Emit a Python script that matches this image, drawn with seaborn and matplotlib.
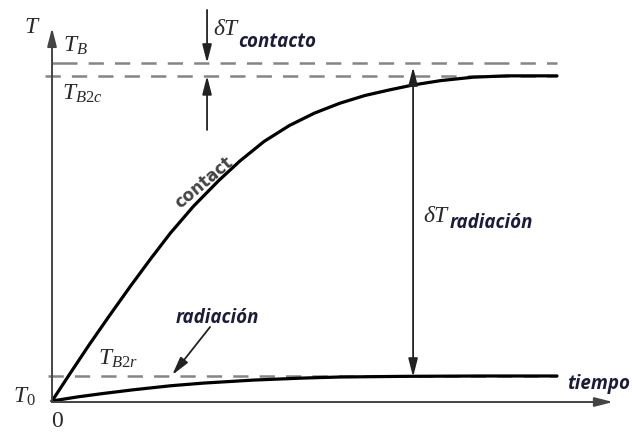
import matplotlib
matplotlib.use("Agg")
import matplotlib.pyplot as plt
import numpy as np
import pandas as pd
import seaborn as sns

# Heating curves: temperature vs time for contact and radiation heating
tiempo_contacto = [0, 0.36, 0.73, 1.13, 1.55, 1.94, 2.34, 2.8, 3.3, 3.72, 4.2, 4.7, 5.2,
                   5.7, 6.2, 6.7, 7.15, 7.7, 8.34, 9.0, 10.0]
T_contacto = [0, 0.082, 0.165, 0.251, 0.339, 0.418, 0.496, 0.576, 0.652, 0.71, 0.768, 0.815,
              0.852, 0.881, 0.904, 0.921, 0.935, 0.948, 0.958, 0.962, 0.962]

tiempo_radiacion = [0, 0.5, 1.0, 1.6, 2.34, 3.0, 4.0, 5.0, 5.7, 7.0, 8.5, 10.0]
T_radiacion = [0, 0.012, 0.022, 0.033, 0.045, 0.053, 0.062, 0.068, 0.071, 0.073, 0.074, 0.074]

# Reference levels
T_B = 1.0
T_B2c = 0.962
T_B2r = 0.074
t_fin = 10.0

sns.set_style("white")
plt.rcParams["mathtext.fontset"] = "custom"
plt.rcParams["mathtext.rm"] = "Liberation Serif"
plt.rcParams["mathtext.it"] = "Liberation Serif:italic"
plt.rcParams["lines.scale_dashes"] = False

df = pd.concat([
    pd.DataFrame({"tiempo": tiempo_contacto, "T": T_contacto, "curva": "contacto"}),
    pd.DataFrame({"tiempo": tiempo_radiacion, "T": T_radiacion, "curva": "radiación"}),
])

fig = plt.figure(figsize=(6.32, 4.32), dpi=100)
ax = fig.add_axes([0, 0, 1, 1])
ax.set_xlim(-1.03, 11.485)
ax.set_ylim(-0.0917, 1.1864)
ax.axis("off")

# dashed reference levels
dash = (11, 8)
ax.hlines(T_B, 0, t_fin, colors="#858585", lw=1.8, linestyles=(0, (18, 8) + dash * 30))
ax.hlines(T_B2c, -0.14, t_fin, colors="#858585", lw=1.8, linestyles=(0, dash))
ax.hlines(T_B2r, -0.08, t_fin, colors="#858585", lw=1.8, linestyles=(0, dash))

sns.lineplot(data=df, x="tiempo", y="T", hue="curva",
             palette={"contacto": "black", "radiación": "black"},
             linewidth=2.3, legend=False, sort=False, ax=ax)

# coordinate axes
axis_arrow = dict(arrowstyle="-|>,head_length=1.1,head_width=0.28", color="#444444",
                  lw=1.4, shrinkA=0, shrinkB=0)
ax.annotate("", xy=(0, 1.104), xytext=(0, -0.003), arrowprops=axis_arrow)
ax.annotate("", xy=(11.11, -0.003), xytext=(0, -0.003), arrowprops=axis_arrow)

# difference markers
marker_arrow = dict(arrowstyle="-|>,head_length=1.1,head_width=0.28", color="#222222",
                    lw=1.3, shrinkA=0, shrinkB=0)
ax.annotate("", xy=(3.07, T_B), xytext=(3.07, 1.157), arrowprops=marker_arrow)
ax.annotate("", xy=(3.07, T_B2c), xytext=(3.07, 0.802), arrowprops=marker_arrow)
ax.annotate("", xy=(7.15, 0.988), xytext=(7.15, 0.071),
            arrowprops=dict(marker_arrow, arrowstyle="<|-|>,head_length=1.1,head_width=0.28"))
ax.annotate("", xy=(2.38, 0.077), xytext=(3.13, 0.219), arrowprops=marker_arrow)

serif = dict(color="#2a2a2a", fontsize=17, va="baseline", ha="left")
sans = dict(color="#1c1c3a", fontsize=13.5, fontweight="bold", fontstyle="italic",
            family="Open Sans", va="baseline", ha="left")

ax.text(-0.55, 1.089, r"$T$", **serif)
ax.text(0.218, 1.033, r"$T_B$", **serif)
ax.text(0.198, 0.891, r"$T_{B2c}$", **serif)
ax.text(0.91, 0.1065, r"$T_{B2r}$", **serif)
ax.text(-0.772, -0.006, r"$T_0$", **serif)
ax.text(0.1, -0.077, r"$0$", **dict(serif, ha="center"))

ax.text(3.19, 1.083, r"$\delta T$", **serif)
ax.text(3.68, 1.047, "contacto", **sans)
ax.text(7.35, 0.530, r"$\delta T$", **serif)
ax.text(7.88, 0.512, "radiación", **sans)
ax.text(2.44, 0.231, "radiación", **sans)
ax.text(10.2, 0.0355, "tiempo", **sans)

ax.text(3.0, 0.645, "contact", color="#444444", fontsize=12, fontweight="bold",
        rotation=40, ha="center", va="center", rotation_mode="anchor")

fig.savefig("out.png", dpi=100)
